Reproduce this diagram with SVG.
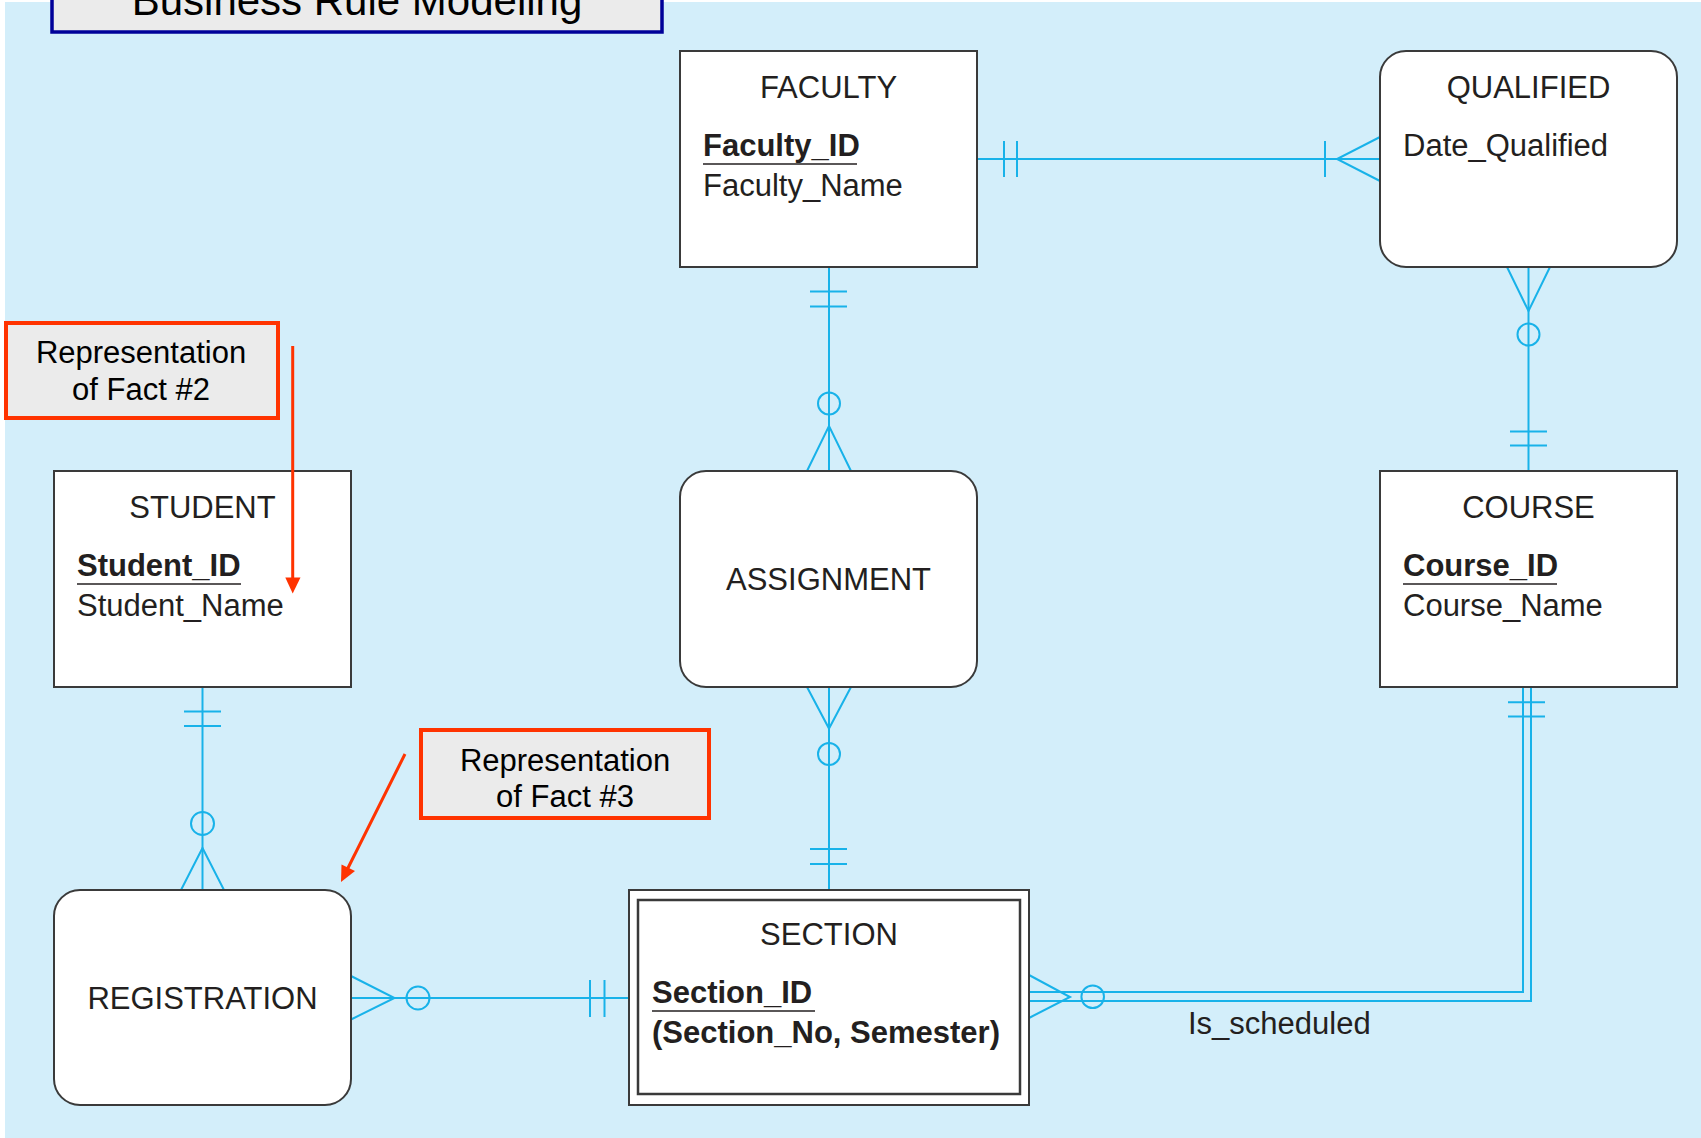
<svg xmlns="http://www.w3.org/2000/svg" width="1701" height="1138" viewBox="0 0 1701 1138">
<style>
.ent{fill:#ffffff;stroke:#3a3a3a;stroke-width:2}
.t{font-family:"Liberation Sans",Arial,sans-serif;font-size:31px;fill:#231f20}
.c{text-anchor:middle}
.b{font-weight:bold}
.u{stroke:#231f20;stroke-width:1.6}
.con line,.con path,.con circle{stroke:#18b2e9;stroke-width:2;fill:none}
.note{fill:#ebebeb;stroke:#ff3300;stroke-width:4}
.arr{stroke:#ff3300;stroke-width:3;fill:none}
.ah{fill:#ff3300}
</style>
<rect x="0" y="0" width="1701" height="1138" fill="#ffffff"/>
<rect x="5" y="2" width="1696" height="1136" fill="#d3eefa"/>

<g id="title">
<rect x="52" y="-10" width="610" height="42" fill="#ebebeb" stroke="#000099" stroke-width="3.5"/>
<text class="t c" x="357" y="15" style="font-size:42px;fill:#000">Business Rule Modeling</text>
</g>

<g id="connectors" class="con">
<!-- FACULTY - QUALIFIED -->
<line x1="977" y1="159" x2="1380" y2="159"/>
<line x1="1004" y1="141" x2="1004" y2="177"/>
<line x1="1017" y1="141" x2="1017" y2="177"/>
<line x1="1325" y1="141" x2="1325" y2="177"/>
<path d="M1380,137 L1337,159 L1380,181"/>
<!-- FACULTY - ASSIGNMENT -->
<line x1="829" y1="267" x2="829" y2="471"/>
<line x1="810" y1="291.5" x2="847" y2="291.5"/>
<line x1="810" y1="306.5" x2="847" y2="306.5"/>
<circle cx="829" cy="403.5" r="11"/>
<path d="M807,471 L829,426 L851,471"/>
<!-- QUALIFIED - COURSE -->
<line x1="1528.5" y1="267" x2="1528.5" y2="471"/>
<path d="M1507,267 L1528.5,311 L1550,267"/>
<circle cx="1528.5" cy="334.5" r="11"/>
<line x1="1510" y1="431.5" x2="1547" y2="431.5"/>
<line x1="1510" y1="445.5" x2="1547" y2="445.5"/>
<!-- STUDENT - REGISTRATION -->
<line x1="202.5" y1="687" x2="202.5" y2="890"/>
<line x1="184" y1="711.5" x2="221" y2="711.5"/>
<line x1="184" y1="726" x2="221" y2="726"/>
<circle cx="202.5" cy="823.5" r="11.5"/>
<path d="M181,890 L202.5,848 L224,890"/>
<!-- ASSIGNMENT - SECTION -->
<line x1="829" y1="687" x2="829" y2="890"/>
<path d="M807,687 L829,728.5 L851,687"/>
<circle cx="829" cy="754" r="11"/>
<line x1="810" y1="849" x2="847" y2="849"/>
<line x1="810" y1="864" x2="847" y2="864"/>
<!-- REGISTRATION - SECTION -->
<line x1="351" y1="998" x2="629" y2="998"/>
<path d="M351,976 L394.5,998 L351,1019.5"/>
<circle cx="418" cy="998" r="11.5"/>
<line x1="590" y1="980" x2="590" y2="1017"/>
<line x1="604.5" y1="980" x2="604.5" y2="1017"/>
<!-- SECTION - COURSE (Is_scheduled, identifying) -->
<path d="M1029,992 H1523 V687"/>
<path d="M1029,1001 H1531 V687"/>
<path d="M1029,975 L1070,997 L1029,1018"/>
<circle cx="1092.7" cy="996.7" r="11.3"/>
<line x1="1508" y1="702.3" x2="1545" y2="702.3"/>
<line x1="1508" y1="716.6" x2="1545" y2="716.6"/>
</g>
<text class="t" x="1188" y="1034">Is_scheduled</text>

<g id="faculty">
<rect class="ent" x="680" y="51" width="297" height="216"/>
<text class="t c" x="828.5" y="98">FACULTY</text>
<text class="t b" x="703" y="156">Faculty_ID</text>
<line class="u" x1="703" y1="164" x2="857" y2="164"/>
<text class="t" x="703" y="196">Faculty_Name</text>
</g>

<g id="qualified">
<rect class="ent" x="1380" y="51" width="297" height="216" rx="26"/>
<text class="t c" x="1528.5" y="98">QUALIFIED</text>
<text class="t" x="1403" y="156">Date_Qualified</text>
</g>

<g id="student">
<rect class="ent" x="54" y="471" width="297" height="216"/>
<text class="t c" x="202.5" y="518">STUDENT</text>
<text class="t b" x="77" y="576">Student_ID</text>
<line class="u" x1="77" y1="584" x2="241" y2="584"/>
<text class="t" x="77" y="616">Student_Name</text>
</g>

<g id="assignment">
<rect class="ent" x="680" y="471" width="297" height="216" rx="26"/>
<text class="t c" x="828.5" y="590">ASSIGNMENT</text>
</g>

<g id="course">
<rect class="ent" x="1380" y="471" width="297" height="216"/>
<text class="t c" x="1528.5" y="518">COURSE</text>
<text class="t b" x="1403" y="576">Course_ID</text>
<line class="u" x1="1403" y1="584" x2="1557" y2="584"/>
<text class="t" x="1403" y="616">Course_Name</text>
</g>

<g id="registration">
<rect class="ent" x="54" y="890" width="297" height="215" rx="26"/>
<text class="t c" x="202.5" y="1009">REGISTRATION</text>
</g>

<g id="section">
<rect class="ent" x="629" y="890" width="400" height="215"/>
<rect class="ent" x="638" y="900" width="382" height="194" style="stroke-width:2.5"/>
<text class="t c" x="829" y="945">SECTION</text>
<text class="t b" x="652" y="1003">Section_ID</text>
<line class="u" x1="652" y1="1011" x2="815" y2="1011"/>
<text class="t b" x="652" y="1043">(Section_No, Semester)</text>
</g>

<g id="fact2">
<rect class="note" x="6" y="323" width="272" height="95"/>
<text class="t c" x="141" y="363" style="fill:#000">Representation</text>
<text class="t c" x="141" y="400" style="fill:#000">of Fact #2</text>
<line class="arr" x1="292.7" y1="346" x2="292.7" y2="580"/>
<polygon class="ah" points="285.3,577.5 300.5,577.5 292.7,593.5"/>
</g>

<g id="fact3">
<rect class="note" x="421" y="730" width="288" height="88"/>
<text class="t c" x="565" y="771" style="fill:#000">Representation</text>
<text class="t c" x="565" y="807" style="fill:#000">of Fact #3</text>
<line class="arr" x1="405" y1="754" x2="347" y2="870"/>
<polygon class="ah" points="341,882 341.5,864.5 355,871"/>
</g>
</svg>
